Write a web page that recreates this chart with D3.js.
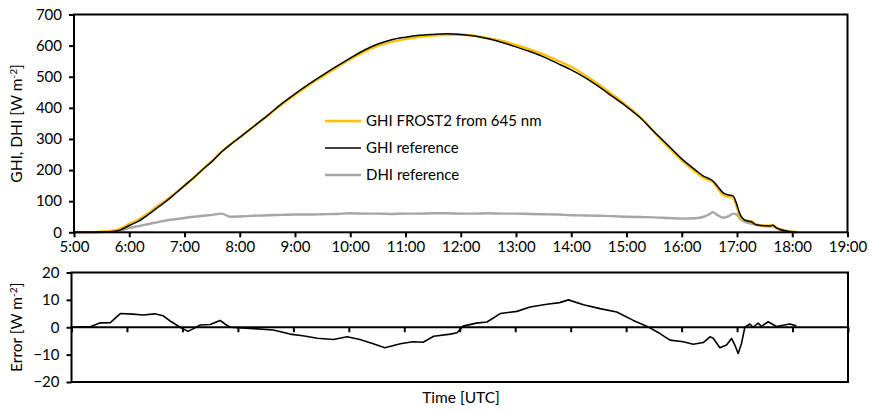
<!DOCTYPE html>
<html><head><meta charset="utf-8">
<script src="https://cdn.jsdelivr.net/npm/d3@7/dist/d3.min.js"></script>
<style>
body{margin:0;background:#fff;}
text{font-family:Lato, "Noto Sans", sans-serif; fill:#000;}
</style>
</head><body>
<svg id="chart" width="869" height="412"></svg>
<script>
// Time in decimal hours (UTC)
const times = [5.00,5.25,5.50,5.67,5.83,6.00,6.17,6.33,6.50,6.67,6.83,7.00,7.17,7.33,7.50,7.67,7.83,8.00,8.25,8.50,8.75,9.00,9.25,9.50,9.75,10.00,10.25,10.50,10.75,11.00,11.25,11.50,11.75,12.00,12.25,12.50,12.75,13.00,13.25,13.50,13.75,14.00,14.25,14.50,14.75,15.00,15.25,15.50,15.75,16.00,16.25,16.40,16.50,16.57,16.63,16.75,16.85,16.93,16.99,17.05,17.10,17.17,17.26,17.35,17.50,17.59,17.65,17.70,17.77,17.90,18.02,18.08];
const ghiRef = [0,0,0,2,7,22,36,55,78,100,124,150,176,202,228,258,282,305,340,375,412,445,476,505,533,560,585,605,619,627,633,636,638,636,631,622,610,596,581,564,543,522,497,468,436,404,368,323,280,236,200,180,172,164,152,127,120,117,93,60,45,37,34,24,21,20,23,16,10,4,1,0];
const ghiFrost2 = [0,0,2,4,11,27,41,60,83,104,126,150,175,203,229,260,282,305,339,374,410,442,473,501,529,556,580,599,612,621,628,632,635,635,632,624,615,602,588,572,552,532,505,475,442,408,370,322,275,231,194,174,168,160,146,120,114,111,85,52,41,38,35,25,22,22,24,16,11,5,2,1];
const dhiRef = [0,0,1,4,6,14,20,26,32,38,42,46,50,53,56,60,50,51,53,55,56,57,57,58,59,61,60,60,59,60,60,61,61,60,60,61,60,60,59,58,57,55,54,53,52,50,49,48,46,44,45,50,58,65,57,47,52,60,58,45,38,32,28,24,20,19,20,14,8,3,1,0];

const errTimes = [5.00,5.35,5.52,5.70,5.80,5.88,6.10,6.30,6.50,6.65,6.80,6.96,7.10,7.20,7.32,7.50,7.68,7.78,7.86,8.28,8.64,8.94,9.20,9.43,9.72,9.97,10.20,10.44,10.65,10.93,11.15,11.34,11.53,11.83,11.95,12.06,12.30,12.49,12.73,13.03,13.27,13.57,13.80,13.96,14.23,14.53,14.83,15.13,15.37,15.61,15.79,16.03,16.21,16.39,16.51,16.57,16.69,16.81,16.90,16.96,17.02,17.08,17.14,17.23,17.29,17.38,17.44,17.56,17.71,17.95,18.07];
const errValues = [0,0.3,1.6,1.7,3.5,5.0,4.8,4.5,4.9,4.2,2.0,0,-1.5,-0.5,0.8,1.0,2.5,1.0,0,-0.5,-1.0,-2.5,-3.2,-4.0,-4.5,-3.5,-4.5,-6.0,-7.5,-6.0,-5.3,-5.5,-3.3,-2.5,-2.0,0.4,1.5,1.9,5.0,5.8,7.4,8.4,9.0,10.0,8.2,6.8,5.6,2.5,0.4,-2.3,-4.7,-5.3,-6.2,-5.6,-3.5,-4.0,-7.5,-6.5,-4.1,-6.5,-9.6,-5.9,0,1.2,0,1.5,0.3,2.0,0.3,1.2,0.5];

const hourTicks = [5,6,7,8,9,10,11,12,13,14,15,16,17,18,19];
const ghiTicks = [0,100,200,300,400,500,600,700];
const errTicks = [-20,-10,0,10,20];
const legendLabels = ["GHI FROST2 from 645 nm","GHI reference","DHI reference"];
const colors = {frost:"#FFC000", ref:"#000000", dhi:"#A6A6A6"};

const svg = d3.select("#chart");
const FS = 15;
const FST = 15.5;

// ---------- Top panel ----------
const xT = d3.scaleLinear().domain([5,19]).range([74,847.5]);
const yT = d3.scaleLinear().domain([0,700]).range([232.3,14.5]);
const topG = svg.append("g");

const lineT = (vals) => d3.line().curve(d3.curveMonotoneX).x((d,i)=>xT(times[i])).y(d=>yT(d))(vals);

topG.append("path").attr("d", lineT(dhiRef)).attr("fill","none").attr("stroke",colors.dhi).attr("stroke-width",2.4).attr("stroke-linejoin","round");
topG.append("path").attr("d", lineT(ghiFrost2)).attr("fill","none").attr("stroke",colors.frost).attr("stroke-width",2.4).attr("stroke-linejoin","round");
topG.append("path").attr("d", lineT(ghiRef)).attr("fill","none").attr("stroke",colors.ref).attr("stroke-width",1.5).attr("stroke-linejoin","round");

topG.append("rect").attr("x",xT(5)).attr("y",yT(700)).attr("width",xT(19)-xT(5)).attr("height",yT(0)-yT(700))
  .attr("fill","none").attr("stroke","#000").attr("stroke-width",2);

const axTx = topG.append("g").attr("transform",`translate(0,${yT(0)})`)
  .call(d3.axisBottom(xT).tickValues(hourTicks).tickFormat(d=>d+":00").tickSize(5).tickPadding(4));
const axTy = topG.append("g").attr("transform",`translate(${xT(5)},0)`)
  .call(d3.axisLeft(yT).tickValues(ghiTicks).tickSize(5).tickPadding(7));
[axTx,axTy].forEach(a=>{
  a.select(".domain").remove();
  a.selectAll("line").attr("stroke","#000").attr("stroke-width",2);
  a.selectAll("text").attr("font-size",FS).attr("font-family","Lato, sans-serif").attr("fill","#000");
});

// y label
const yl1 = topG.append("text").attr("transform",`translate(22,${(yT(0)+yT(700))/2}) rotate(-90)`)
  .attr("text-anchor","middle").attr("font-size",FST);
yl1.append("tspan").text("GHI, DHI [W m");
yl1.append("tspan").attr("dy",-5).attr("font-size",FST*0.65).text("-2");
yl1.append("tspan").attr("dy",5).text("]");

// legend
const legColors = [colors.frost, colors.ref, colors.dhi];
const legW = [2.4,1.5,2.4];
legendLabels.forEach((lab,i)=>{
  const y = 121 + i*27;
  topG.append("line").attr("x1",325).attr("x2",361).attr("y1",y).attr("y2",y)
    .attr("stroke",legColors[i]).attr("stroke-width",legW[i]);
  topG.append("text").attr("x",366).attr("y",y).attr("dy","0.35em").attr("font-size",FS).text(lab);
});

// ---------- Bottom panel ----------
const xB = d3.scaleLinear().domain([5,19]).range([71.5,848]);
const yB = d3.scaleLinear().domain([-20,20]).range([382,272.5]);
const botG = svg.append("g");

botG.append("path").attr("d", d3.line().x((d,i)=>xB(errTimes[i])).y(d=>yB(d))(errValues))
  .attr("fill","none").attr("stroke","#000").attr("stroke-width",1.6).attr("stroke-linejoin","round");

botG.append("rect").attr("x",xB(5)).attr("y",yB(20)).attr("width",xB(19)-xB(5)).attr("height",yB(-20)-yB(20))
  .attr("fill","none").attr("stroke","#000").attr("stroke-width",2);
botG.append("line").attr("x1",xB(5)).attr("x2",xB(19)).attr("y1",yB(0)).attr("y2",yB(0)).attr("stroke","#000").attr("stroke-width",2);

const axBx = botG.append("g").attr("transform",`translate(0,${yB(0)})`)
  .call(d3.axisBottom(xB).tickValues(hourTicks).tickFormat("").tickSize(5));
const axBy = botG.append("g").attr("transform",`translate(${xB(5)},0)`)
  .call(d3.axisLeft(yB).tickValues(errTicks).tickSize(5).tickPadding(7));
[axBx,axBy].forEach(a=>{
  a.select(".domain").remove();
  a.selectAll("line").attr("stroke","#000").attr("stroke-width",2);
  a.selectAll("text").attr("font-size",FS).attr("font-family","Lato, sans-serif").attr("fill","#000");
});

const yl2 = botG.append("text").attr("transform",`translate(22,${(yB(-20)+yB(20))/2}) rotate(-90)`)
  .attr("text-anchor","middle").attr("font-size",FST);
yl2.append("tspan").text("Error [W m");
yl2.append("tspan").attr("dy",-5).attr("font-size",FST*0.65).text("-2");
yl2.append("tspan").attr("dy",5).text("]");

svg.append("text").attr("x",461).attr("y",403).attr("text-anchor","middle").attr("font-size",FST).text("Time [UTC]");
</script>
</body></html>
